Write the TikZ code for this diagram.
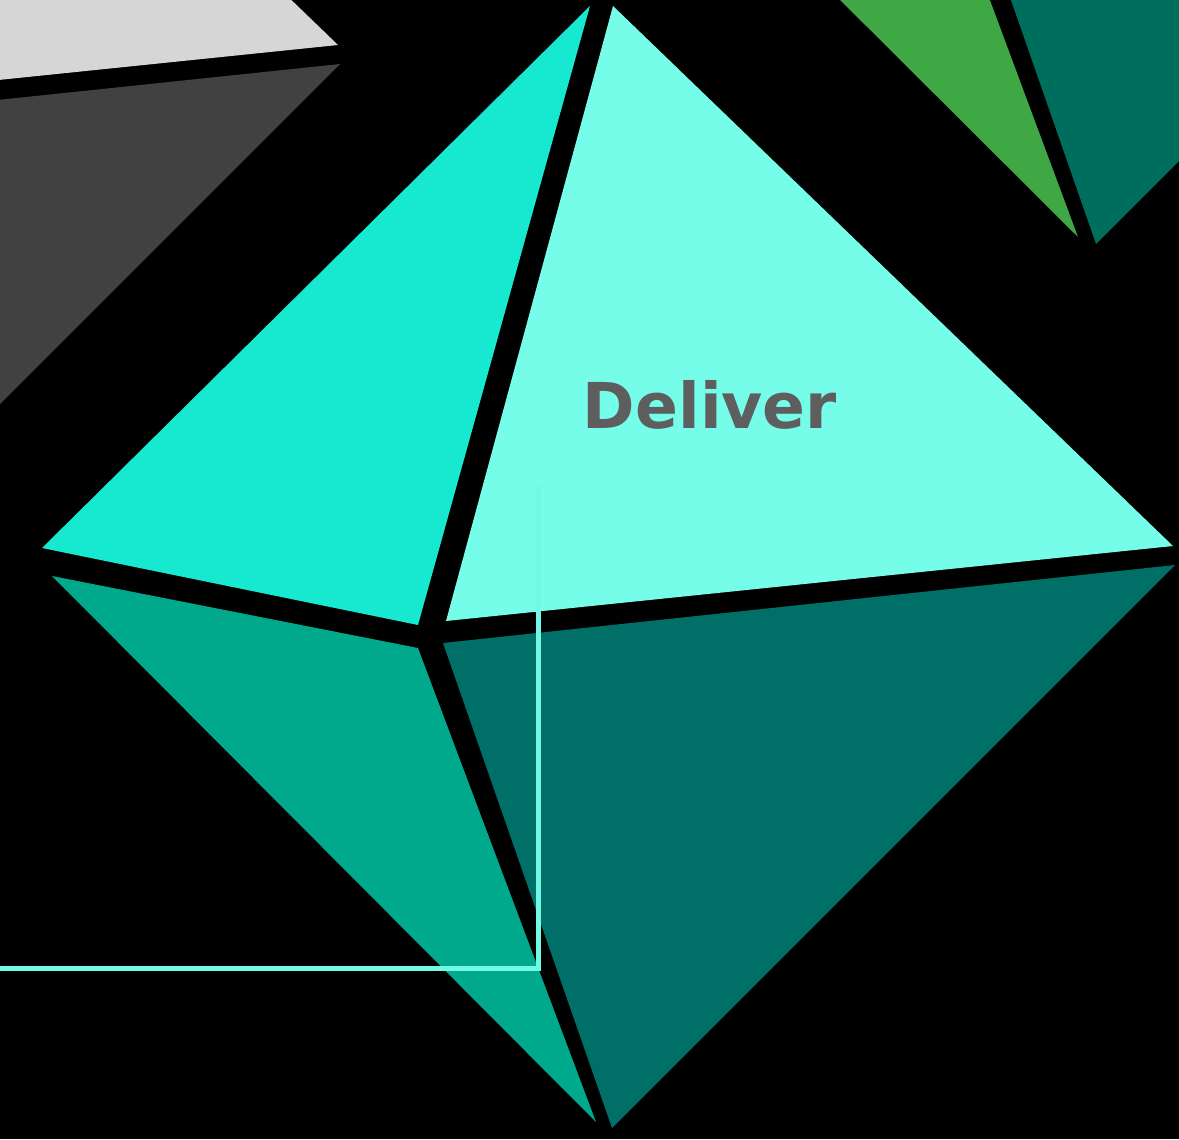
\documentclass[tikz,border=0pt]{standalone}
\usepackage{fontspec}
\newfontfamily\labelfont{DejaVu Sans}
\definecolor{facegrey}{HTML}{D6D6D6}
\definecolor{facedark}{HTML}{414141}
\definecolor{faceturq}{HTML}{17E9D0}
\definecolor{faceaqua}{HTML}{76FDEA}
\definecolor{facemid}{HTML}{00A88C}
\definecolor{facedeep}{HTML}{006F67}
\definecolor{facegreen}{HTML}{3FA844}
\definecolor{facepine}{HTML}{006E5C}
\definecolor{labelgrey}{HTML}{5E5E5E}
\definecolor{leadaqua}{HTML}{72F9E5}

\begin{document}
\begin{tikzpicture}[x=0.02cm,y=-0.02cm]
    \useasboundingbox (0,0) rectangle (1179,1139);
    % Background
    \fill[black] (0,0) rectangle (1179,1139);

    \begin{scope}
    \clip (0,0) rectangle (1179,1139);
    % Grey faces (top left)
    \fill[facegrey] (-50,-40) -- (250,-40) -- (338,45) -- (-50,85) -- cycle;
    \fill[facedark] (-50,105) -- (340,64) -- (-50,454) -- cycle;

    % Green faces (top right)
    \fill[facegreen] (800,-40) -- (975,-40) -- (1078,237) -- cycle;
    \fill[facepine] (997,-40) -- (1250,-40) -- (1250,90) -- (1096,244) -- cycle;
    \end{scope}

    % Upper faces of the octahedron
    \fill[faceturq] (590,6) -- (42,548) -- (418,625) -- cycle;
    \fill[faceaqua] (613,6) -- (1173,546) -- (446,621) -- cycle;

    % Lower faces of the octahedron
    \fill[facemid] (52,576) -- (418,648) -- (596,1122) -- cycle;
    \fill[facedeep] (443,643) -- (1175,565) -- (612,1128) -- cycle;

    % Label
    \node[anchor=base, text=labelgrey, font=\labelfont\bfseries\fontsize{36}{43}\selectfont,
          inner sep=0pt] (deliver) at (710,428) {Deliver};

    % Leader line
    \coordinate (linestart) at (-10,968);
    \coordinate (linecorner) at (538,968);
    \coordinate (lineend) at (538,486);
    \draw[leadaqua, line width=0.1cm] (linestart) -- (linecorner) -- (lineend);
\end{tikzpicture}
\end{document}
